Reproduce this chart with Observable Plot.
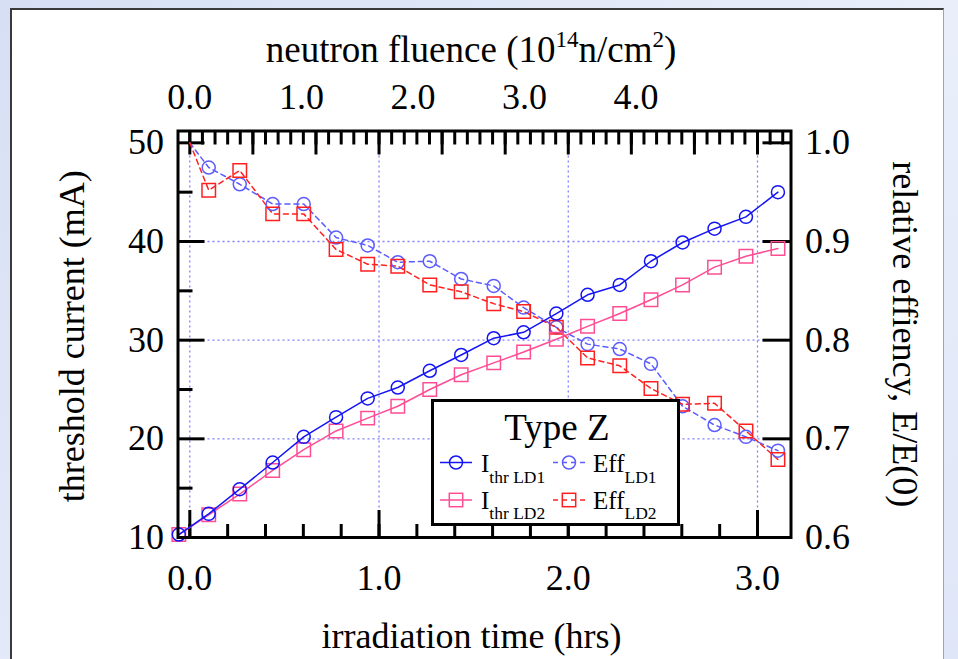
<!DOCTYPE html>
<html>
<head>
<meta charset="utf-8">
<script src="https://cdn.jsdelivr.net/npm/d3@7"></script>
<script src="https://cdn.jsdelivr.net/npm/@observablehq/plot@0.6"></script>
<style>
  html, body { margin: 0; padding: 0; }
  body {
    width: 958px; height: 659px; overflow: hidden; position: relative;
    background: linear-gradient(135deg, #d6dff4 0%, #e9eefa 60%, #dfe6f7 100%);
    font-family: "Liberation Serif", "Times New Roman", serif;
  }
  #panel {
    position: absolute; left: 10px; top: 8px; width: 931px; height: 700px;
    background: #ffffff; border-left: 2px solid #3a3a3a; border-top: 2px solid #3a3a3a;
    border-right: 1px solid #9aa4c0;
  }
  #chart { position: absolute; left: 0; top: 0; }
</style>
</head>
<body>
<div id="panel"></div>
<div id="chart"></div>
<script>
// ---------------- data ----------------
const hours      = [-0.058, 0.100, 0.264, 0.438, 0.602, 0.773, 0.940, 1.099, 1.268, 1.434,
                     1.606, 1.764, 1.937, 2.102, 2.272, 2.437, 2.604, 2.773, 2.939, 3.108];
const ithrLD1    = [10.3, 12.4, 14.9, 17.6, 20.2, 22.2, 24.1, 25.2, 26.9, 28.5,
                    30.2, 30.8, 32.7, 34.6, 35.6, 38.0, 39.9, 41.3, 42.5, 45.0];
const ithrLD2    = [10.3, 12.3, 14.4, 16.8, 18.9, 20.8, 22.1, 23.3, 25.0, 26.5,
                    27.7, 28.8, 30.1, 31.4, 32.7, 34.1, 35.6, 37.4, 38.5, 39.3];
const effHours   = [0.000, 0.100, 0.264, 0.438, 0.602, 0.773, 0.940, 1.099, 1.268, 1.434,
                    1.606, 1.764, 1.937, 2.102, 2.272, 2.437, 2.604, 2.773, 2.939, 3.108];
const effLD1     = [1.000, 0.975, 0.958, 0.938, 0.938, 0.904, 0.896, 0.879, 0.880, 0.862,
                    0.855, 0.833, 0.813, 0.796, 0.791, 0.776, 0.733, 0.714, 0.702, 0.688];
const effLD2     = [1.000, 0.952, 0.972, 0.928, 0.928, 0.892, 0.877, 0.875, 0.856, 0.849,
                    0.837, 0.829, 0.813, 0.782, 0.774, 0.751, 0.735, 0.736, 0.708, 0.679];

// tick labels
const hourLabels     = [0, 1, 2, 3];
const fluenceLabels  = [0, 1, 2, 3, 4];
const currentLabels  = [10, 20, 30, 40, 50];
const effLabels      = [0.6, 0.7, 0.8, 0.9, 1.0];
const fluencePerHour = 1.696;   // 10^14 n/cm^2 per hour of irradiation

// text
const xTitle      = "irradiation time (hrs)";
const yTitle      = "threshold current (mA)";
const y2Title     = "relative effiency, E/E(0)";
const legendTitle = "Type Z";

// ---------------- helpers ----------------
const effToCurrent = e => 10 + (e - 0.6) * 100;   // right axis 0.6..1.0 mapped onto 10..50 mA

const thr = hours.map((t, i) => ({t, ld1: ithrLD1[i], ld2: ithrLD2[i]}));
const eff = effHours.map((t, i) => ({t, ld1: effLD1[i], ld2: effLD2[i], i}));

const W = 958, H = 659;
const mL = 177.5, mR = 167.5, mT = 130.5, mB = 122;
const fH = H - mT - mB, fW = W - mL - mR;

const cThr1 = "#1414f5", cThr2 = "#ff4d94", cEff1 = "#5c5cff", cEff2 = "#ff1f1f";
const grid = "#8080ff";
const FONT = "'Liberation Serif', 'Times New Roman', serif";
const FS = 36;

const bottomMinor = d3.range(0, 3.01, 0.2);
const topMinor = d3.range(0, 3.18, 1 / 15);
const topMajor = d3.range(0, 3.18, 1 / 3);
const leftMinor = [15, 25, 35, 45];

const plot = Plot.plot({
  width: W, height: H,
  marginLeft: mL, marginRight: mR, marginTop: mT, marginBottom: mB,
  x: {domain: [-0.0624, 3.177], axis: null},
  y: {domain: [10, 51.2], axis: null},
  style: {fontFamily: FONT, background: "transparent", overflow: "visible"},
  marks: [
    // grid
    Plot.ruleX(hourLabels, {x: d => d, stroke: grid, strokeWidth: 1.3, strokeDasharray: "2,3"}),
    Plot.ruleY([20, 30, 40], {y: d => d, stroke: grid, strokeWidth: 1.3, strokeDasharray: "2,3"}),
    // ticks
    Plot.ruleX(bottomMinor, {x: d => d, insetTop: fH - 13, stroke: "black", strokeWidth: 3}),
    Plot.ruleX(hourLabels, {x: d => d, insetTop: fH - 27, stroke: "black", strokeWidth: 3}),
    Plot.ruleX(topMinor, {x: d => d, insetBottom: fH - 14, stroke: "black", strokeWidth: 3}),
    Plot.ruleX(topMajor, {x: d => d, insetBottom: fH - 24, stroke: "black", strokeWidth: 3}),
    Plot.ruleY(leftMinor, {y: d => d, insetRight: fW - 15, stroke: "black", strokeWidth: 3}),
    Plot.ruleY(currentLabels, {y: d => d, insetRight: fW - 27, stroke: "black", strokeWidth: 3}),
    Plot.ruleY(effLabels, {y: e => effToCurrent(e), insetLeft: fW - 28, stroke: "black", strokeWidth: 3}),
    // efficiency series (dashed)
    Plot.line(eff, {x: "t", y: d => effToCurrent(d.ld1), stroke: cEff1, strokeWidth: 1.5, strokeDasharray: "5,4"}),
    Plot.line(eff, {x: "t", y: d => effToCurrent(d.ld2), stroke: cEff2, strokeWidth: 1.5, strokeDasharray: "5,4"}),
    Plot.dot(eff.filter(d => d.i > 0), {x: "t", y: d => effToCurrent(d.ld1), symbol: "circle", r: 6.5, stroke: cEff1, fill: "none", strokeWidth: 1.5}),
    Plot.dot(eff.filter(d => d.i > 0), {x: "t", y: d => effToCurrent(d.ld2), symbol: "square", r: 7.6, stroke: cEff2, fill: "none", strokeWidth: 1.5}),
    // threshold series (solid)
    Plot.line(thr, {x: "t", y: "ld2", stroke: cThr2, strokeWidth: 1.5}),
    Plot.dot(thr, {x: "t", y: "ld2", symbol: "square", r: 7.6, stroke: cThr2, fill: "none", strokeWidth: 1.5}),
    Plot.line(thr, {x: "t", y: "ld1", stroke: cThr1, strokeWidth: 1.5}),
    Plot.dot(thr, {x: "t", y: "ld1", symbol: "circle", r: 6.5, stroke: cThr1, fill: "none", strokeWidth: 1.5}),
    // frame
    Plot.frame({stroke: "black", strokeWidth: 3}),
    // tick labels
    Plot.text(hourLabels, {x: d => d, frameAnchor: "bottom", dy: 41, text: d => d.toFixed(1), fontSize: FS, lineAnchor: "middle"}),
    Plot.text(fluenceLabels, {x: f => f / fluencePerHour, frameAnchor: "top", dy: -34, text: f => f.toFixed(1), fontSize: FS, lineAnchor: "middle"}),
    Plot.text(currentLabels, {y: d => d, frameAnchor: "left", textAnchor: "end", dx: -14, text: d => String(d), fontSize: FS, lineAnchor: "middle"}),
    Plot.text(effLabels, {y: e => effToCurrent(e), frameAnchor: "right", textAnchor: "start", dx: 14, text: e => e.toFixed(1), fontSize: FS, lineAnchor: "middle"}),
    // axis titles
    Plot.text([xTitle], {frameAnchor: "bottom", text: d => d, textAnchor: "middle", dx: -13, dy: 99, fontSize: FS, lineAnchor: "middle"}),
    Plot.text([yTitle], {frameAnchor: "left", text: d => d, textAnchor: "middle", dx: -106, dy: 2, rotate: -90, fontSize: FS, lineAnchor: "middle"}),
    Plot.text([y2Title], {frameAnchor: "right", text: d => d, textAnchor: "middle", dx: 114, dy: 0, rotate: 90, fontSize: FS, lineAnchor: "middle"})
  ]
});

document.getElementById("chart").appendChild(plot);

// ---------------- top title with superscripts ----------------
const svg = d3.select(plot);
const tt = svg.append("text")
  .attr("x", 471).attr("y", 62)
  .attr("text-anchor", "middle")
  .attr("font-family", FONT).attr("font-size", 37).attr("fill", "black");
tt.append("tspan").text("neutron fluence (10");
tt.append("tspan").attr("font-size", 23).attr("dy", -15).text("14");
tt.append("tspan").attr("dy", 15).text("n/cm");
tt.append("tspan").attr("font-size", 23).attr("dy", -15).text("2");
tt.append("tspan").attr("dy", 15).text(")");

// ---------------- legend ----------------
const lg = svg.append("g").attr("font-family", FONT).attr("fill", "black").attr("text-anchor", "start");
lg.append("rect").attr("x", 432.5).attr("y", 400.5).attr("width", 246).attr("height", 124)
  .attr("fill", "white").attr("stroke", "black").attr("stroke-width", 3);
lg.append("text").attr("x", 557).attr("y", 440).attr("text-anchor", "middle")
  .attr("font-size", 37).text(legendTitle);

const legendRows = [
  {y: 462.5, base: 472, main: "I", sub: "thr LD1", color: cThr1, dash: null, sym: "circle", x0: 440, tx: 481},
  {y: 462.5, base: 472, main: "Eff", sub: "LD1", color: cEff1, dash: "5,4", sym: "circle", x0: 553, tx: 593},
  {y: 500, base: 508.5, main: "I", sub: "thr LD2", color: cThr2, dash: null, sym: "square", x0: 440, tx: 481},
  {y: 500, base: 508.5, main: "Eff", sub: "LD2", color: cEff2, dash: "5,4", sym: "square", x0: 553, tx: 593}
];
for (const r of legendRows) {
  const ln = lg.append("line").attr("x1", r.x0).attr("x2", r.x0 + 32).attr("y1", r.y).attr("y2", r.y)
    .attr("stroke", r.color).attr("stroke-width", 1.5);
  if (r.dash) ln.attr("stroke-dasharray", r.dash);
  const cx = r.x0 + 16;
  if (r.sym === "circle") {
    lg.append("circle").attr("cx", cx).attr("cy", r.y).attr("r", 6.5)
      .attr("fill", "none").attr("stroke", r.color).attr("stroke-width", 1.5);
  } else {
    lg.append("rect").attr("x", cx - 6.7).attr("y", r.y - 6.7).attr("width", 13.4).attr("height", 13.4)
      .attr("fill", "none").attr("stroke", r.color).attr("stroke-width", 1.5);
  }
  const t = lg.append("text").attr("x", r.tx).attr("y", r.base).attr("font-size", 25).attr("text-anchor", "start");
  t.append("tspan").text(r.main);
  t.append("tspan").attr("font-size", 17.5).attr("dy", 10.5).text(r.sub);
}
</script>
</body>
</html>
